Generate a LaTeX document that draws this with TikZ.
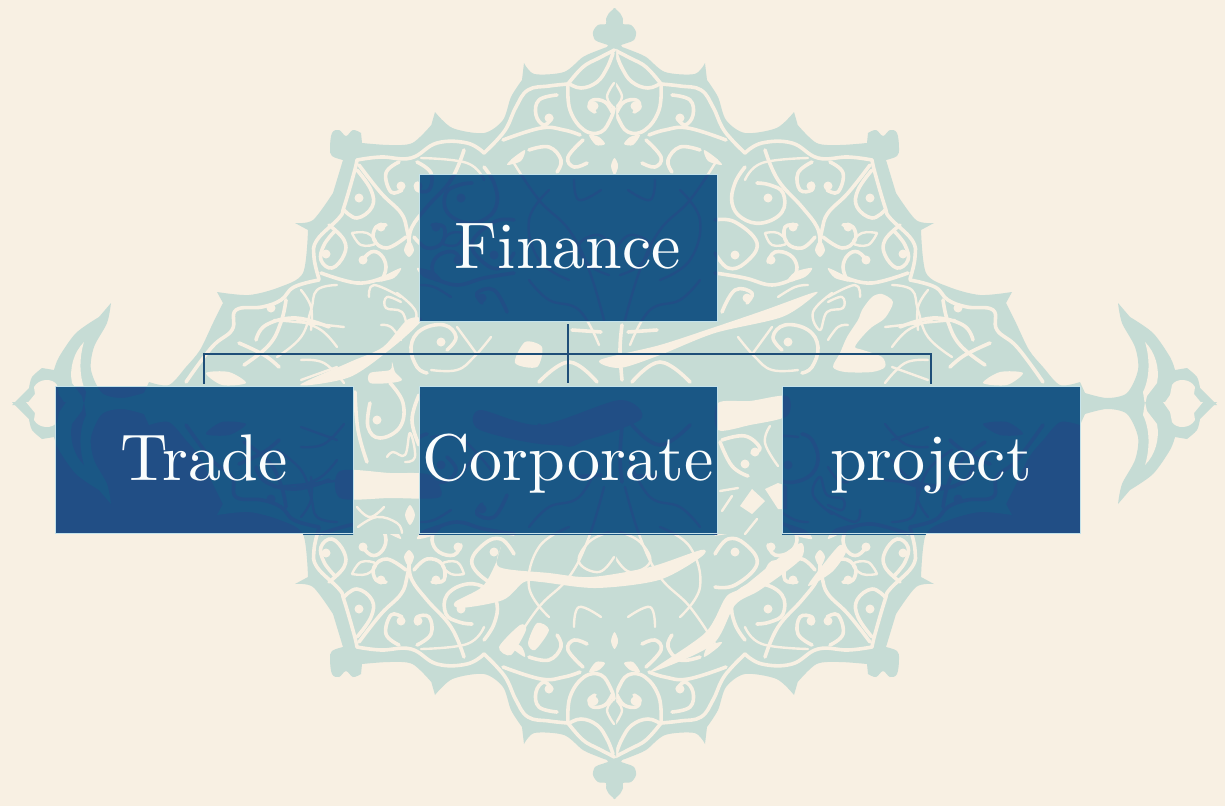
\documentclass[tikz,border=0pt]{standalone}
\usepackage{fontspec}
\newfontfamily\boxfont[Extension=.otf]{lmroman10-regular}
\definecolor{paper}{HTML}{F8F0E3}
\definecolor{teal}{HTML}{C6DCD5}
\definecolor{boxbase}{HTML}{214E85}
\definecolor{boxteal}{HTML}{1A5785}
\definecolor{boxedge}{HTML}{C4E2EA}
\definecolor{wire}{HTML}{1E4E78}
\colorlet{ornfill}{teal}
\colorlet{ornline}{paper}
\tikzset{
  arab/.style={draw=ornline,line width=3.6pt,line cap=round,line join=round},
  arabthin/.style={draw=ornline,line width=2.4pt,line cap=round,line join=round},
  orgbox/.style={draw=boxedge,line width=1pt,minimum width=298pt,inner sep=0pt,
    text height=94pt,text depth=53.5pt,text=white!92!boxedge,
    font=\boxfont\fontsize{66}{70}\selectfont},
  wireline/.style={draw=wire,line width=1.5pt}
}
\newcommand{\arcA}[1]{\draw[arab] plot[smooth,tension=.7] coordinates {#1};}
\newcommand{\arcB}[1]{\draw[arabthin] plot[smooth,tension=.7] coordinates {#1};}
\newcommand{\blob}[1]{\fill[ornline] plot[smooth cycle,tension=.5] coordinates {#1};}
\newcommand{\dotp}[2]{\fill[ornline] (#1,#2) circle (4.5);}
\newcommand{\patA}{%
  \arcA{(614.5,50)(630,58)(646,67)(661,84)}
  \arcA{(661,84)(680,86)(701,90)(713,107)(722,127)(732,140)(745,153)}
  \arcA{(616,53)(622,68)(632,82)(648,88)(661,83)}
  \arcA{(661,84)(659,110)(645,130)(628,132)(618,118)(615,108)}
  \arcB{(615,83)(622,97)(615,108)}
  \arcA{(617,112)(624,102)(636,100)(640,107)(634,112)}
  \dotp{635}{106}
  \arcA{(672,95)(690,100)(693,115)(685,125)(677,118)}
  \dotp{680}{118}
  \arcA{(649,135)(665,130)(688,128)(726,140)}
  \blob{(640,135)(630,137)(624,144)(633,145)}
  \arcA{(646,140)(661,157)(655,167)(642,163)}
  \arcA{(700,150)(680,147)(668,160)(672,172)}
  \blob{(704,150)(716,158)(722,165)(708,161)}
  \blob{(614.5,158)(618,166)(614.5,175)(611,166)}
  \arcB{(717,160)(690,200)(660,230)(640,270)(625,320)}
  \arcB{(615,250)(630,235)(650,245)(640,265)(620,275)}
  \arcB{(680,190)(700,220)(690,260)(660,280)}
  \arcB{(628,190)(650,200)(655,180)}
  \arcB{(700,280)(680,300)(650,310)(630,345)}
  \arcA{(628,332)(657,330)}
  \arcA{(632,382)(660,362)(690,382)}
  \arcA{(607,325)(609,350)(607,380)}
}
\newcommand{\patC}{%
  \arcA{(745,153)(762,143)(792,143)(818,158)(848,157)(872,160)}
  \arcA{(872,160)(875,173)(885,207)(890,218)(912,240)(915,257)(910,279)}
  \arcA{(910,280)(935,287)(948,300)(967,307)(993,310)(997,330)(1017,347)(1043,382)}
  \arcB{(745,180)(762,163)(808,158)}
  \arcA{(745,167)(735,183)(732,203)(742,218)(762,223)(782,212)(783,193)(770,185)(757,183)}
  \dotp{768}{198}
  \arcA{(765,150)(778,180)(802,207)(817,227)(820,243)}
  \arcA{(870,165)(848,193)(828,213)(822,230)(820,243)}
  \arcA{(812,162)(798,173)(800,190)(812,190)(812,183)}
  \dotp{811}{186}
  \arcA{(830,162)(843,173)(838,192)(827,190)}
  \dotp{828}{186}
  \arcA{(872,170)(858,190)(857,207)(872,218)(885,210)}
  \dotp{870}{198}
  \arcA{(815,237)(802,248)(787,243)(785,227)(797,225)}
  \dotp{793}{227}
  \arcA{(823,237)(842,248)(855,240)(853,227)(843,225)}
  \dotp{848}{227}
  \arcB{(765,233)(778,233)(787,243)(772,245)(765,233)}
  \arcB{(877,233)(862,233)(853,243)(868,245)(877,233)}
  \arcA{(768,262)(775,252)(790,255)(797,267)(793,280)}
  \dotp{771}{260}
  \arcA{(868,262)(858,252)(848,255)(843,267)(847,280)}
  \dotp{866}{260}
  \blob{(820,240)(825,250)(820,257)(815,250)}
  \arcA{(715,273)(745,278)(772,285)(795,278)}
  \blob{(812,268)(795,272)(787,282)(805,277)}
  \arcA{(908,273)(872,283)(847,278)}
  \blob{(828,268)(847,277)(852,282)(835,278)}
  \arcA{(715,220)(735,222)(757,243)(745,263)(728,268)(715,253)}
  \dotp{735}{255}
  \arcA{(900,225)(885,240)(885,255)(897,268)(908,260)(905,245)(895,232)}
  \dotp{903}{254}
  \arcB{(778,297)(795,287)(808,285)}
  \arcB{(828,297)(855,285)(860,297)}
  \arcA{(722,312)(735,290)(752,293)(747,303)}
  \dotp{747}{298}
  \arcB{(832,293)(813,312)(820,330)(827,312)(843,308)(842,297)(828,302)}
  \arcB{(738,337)(755,357)(772,370)(798,370)}
  \arcB{(772,327)(753,353)}
  \arcA{(782,350)(773,337)(785,325)(808,330)(818,347)(812,367)(802,373)}
  \dotp{788}{342}
  \arcB{(828,340)(838,327)(848,325)}
  \arcB{(892,285)(912,290)(918,310)(928,337)(952,357)}
  \arcB{(928,290)(918,307)(918,330)}
  \arcB{(885,327)(922,323)(955,320)}
  \arcB{(892,347)(908,330)(932,320)}
  \arcB{(892,367)(928,380)}
  \arcB{(885,383)(905,363)(928,360)}
  \arcA{(900,327)(933,318)(963,325)(973,340)}
  \arcA{(943,300)(948,322)(960,345)(985,365)}
  \arcA{(990,343)(965,355)(950,367)}
  \blob{(983,383)(1000,372)(1023,373)(1007,385)}
  \dotp{958}{308}
}
\newcommand{\ornquad}{%
  \fill[ornfill] (613,405) -- (613,9) -- (614.5,8)
    -- plot[smooth,tension=.55] coordinates {(620,13)(623,19)(623,24)(631,25)(636,32)(634,40)(627,43)(621,45)}
    -- plot[smooth,tension=.5] coordinates {(622,47)(630,50)(646,57)(665,72)(694.6,74)(705,63)}
    -- plot[smooth,tension=.5] coordinates {(707,80)(718,97)(726,120)(745,133)(776.6,128)(794,112)}
    -- plot[smooth,tension=.5] coordinates {(797.7,125)(816.6,143)(840,145)(867,143)}
    -- plot[smooth,tension=.6] coordinates {(868,133)(876,130)(883,136)(890,130)(897,133)(899,148)(897,156)(886,160)}
    -- plot[smooth,tension=.5] coordinates {(896,193)(916,220)(934,223)}
    -- plot[smooth,tension=.5] coordinates {(921,230)(926,273)(949,287)(980,295)(1012,292)}
    -- plot[smooth,tension=.5] coordinates {(1006,303)(1016,323)(1029,350)(1043,367)(1060,385)(1080,382)}
    -- plot[smooth,tension=.5] coordinates {(1085,393)(1107,398)(1127,393)(1138,370)(1135,347)(1122,323)(1118,303)}
    -- plot[smooth,tension=.5] coordinates {(1130,317)(1153,333)(1170,357)(1175,370)}
    -- plot[smooth,tension=.5] coordinates {(1187,368)(1197,377)(1200,388)}
    -- (1217,405) -- cycle;
  \fill[ornline] (1145,342) .. controls (1155,352) and (1160,368) .. (1157,383)
    -- (1147,396) -- (1145,405) -- (1143,392) .. controls (1150,378) and (1150,358) .. (1145,342) -- cycle;
  \fill[ornline] (1163,405) -- (1170,395) -- (1172,385) .. controls (1176,378) and (1190,378) .. (1195,387)
    -- (1194,394) -- (1203,405) -- cycle;
  \patA
  \patC
}
\newcommand{\ornhalf}{%
  \ornquad
  \begin{scope}[shift={(1229,0)},xscale=-1]\ornquad\end{scope}
}
\newcommand{\ornament}{%
  \ornhalf
  \begin{scope}[shift={(0,807)},yscale=-1]\ornhalf\end{scope}
  % gaps between the lower boxes
  \fill[ornfill] (353,386) rectangle (419,534);
  \fill[ornfill] (717,386) rectangle (782,534);
  % left gap
  \blob{(370,373)(390,370)(392,362)(395,372)(402,380)(390,383)(370,383)}
  \arcA{(390,383)(403,403)(400,427)(380,438)(368,427)(370,403)}
  \dotp{377}{420}
  \arcA{(355,392)(358,430)(367,462)}
  \arcB{(387,457)(393,452)(405,455)(410,433)(415,457)(405,462)}
  \arcB{(357,507)(370,517)(384,507)}
  \arcB{(358,527)(377,517)(397,523)(402,533)}
  \blob{(410,505)(415,515)(410,525)(405,515)}
  \arcA{(419,395)(412,420)(419,445)}
  % right gap
  \blob{(718,403)(750,401)(787,396)(787,416)(750,425)(718,430)}
  \arcA{(722,440)(745,436)(760,448)(752,453)}
  \dotp{755}{452}
  \arcA{(720,442)(732,466)(748,476)}
  \dotp{745}{464}
  \arcB{(770,426)(765,443)(778,466)}
  \arcB{(720,491)(738,488)}
  \arcB{(732,496)(722,511)}
  \arcB{(757,519)(745,534)}
  \fill[ornline] (740,506) -- (752,489) -- (765,501) -- (752,514) -- cycle;
  \fill[ornline] (765,489) -- (778,483) -- (787,486) -- (787,509) -- (778,509) -- cycle;
  % calligraphy
  \blob{(600,360)(660,345)(715,327)(765,310)(812,293)(815,295)(782,317)(715,333)(660,355)(620,368)}
  \blob{(882,294)(893,302)(885,318)(872,327)(862,337)(855,347)(863,350)(882,357)(885,367)(872,372)(845,372)(833,367)(840,353)(847,337)(858,320)(862,310)(872,297)}
  \blob{(501,547)(499,567)(549,573)(591,577)(650,567)(701,550)(701,557)(659,580)(596,588)(541,582)(524,582)(503,600)(461,608)(455,602)(482,587)(495,565)}
  \blob{(802,543)(785,553)(743,587)(726,597)(705,633)(650,672)(712,645)(735,605)(760,590)(800,560)}
  \blob{(840,545)(846,552)(832,572)(808,586)(822,566)}
  \blob{(499,647)(520,625)(526,630)(511,655)}
  \blob{(528,643)(537,623)(549,630)(535,650)}
  \blob{(525,342)(542,347)(537,367)(515,363)}
  \blob{(350,362)(383,347)(407,320)(422,320)(393,347)(350,377)(300,385)}
  \blob{(340,471)(390,473)(430,475)(440,497)(390,498)(340,498)}
  \blob{(480,410)(540,425)(620,400)(640,420)(560,445)(480,430)}
}
\newcommand{\panel}[4]{%
  \begin{scope}
    \clip (#1,#2) rectangle (#3,#4);
    \fill[boxbase] (#1,#2) rectangle (#3,#4);
    \colorlet{ornfill}{boxteal}
    \colorlet{ornline}{boxbase}
    \ornament
  \end{scope}}
\begin{document}
\begin{tikzpicture}[x=1pt,y=-1pt]
  \useasboundingbox (0,0) rectangle (1225,806);
  \fill[paper] (0,0) rectangle (1225,806);
  \ornament
  \panel{419}{174}{717}{321.5}
  \panel{55}{386}{353}{534}
  \panel{419}{386}{717}{534}
  \panel{782}{386}{1080}{534}
  \node[orgbox] (fin) at (568,247.75) {Finance};
  \node[orgbox] (trade) at (204,460) {Trade};
  \node[orgbox] (corp) at (568,460) {Corporate};
  \node[orgbox] (proj) at (931,460) {project};
  \coordinate (bus) at (568,354);
  \draw[wireline,shorten <=2pt,shorten >=3pt] (fin.south) -- (corp.north);
  \draw[wireline,shorten >=2pt] (bus) -| (trade.north);
  \draw[wireline,shorten >=2pt] (bus) -| (proj.north);
\end{tikzpicture}
\end{document}
